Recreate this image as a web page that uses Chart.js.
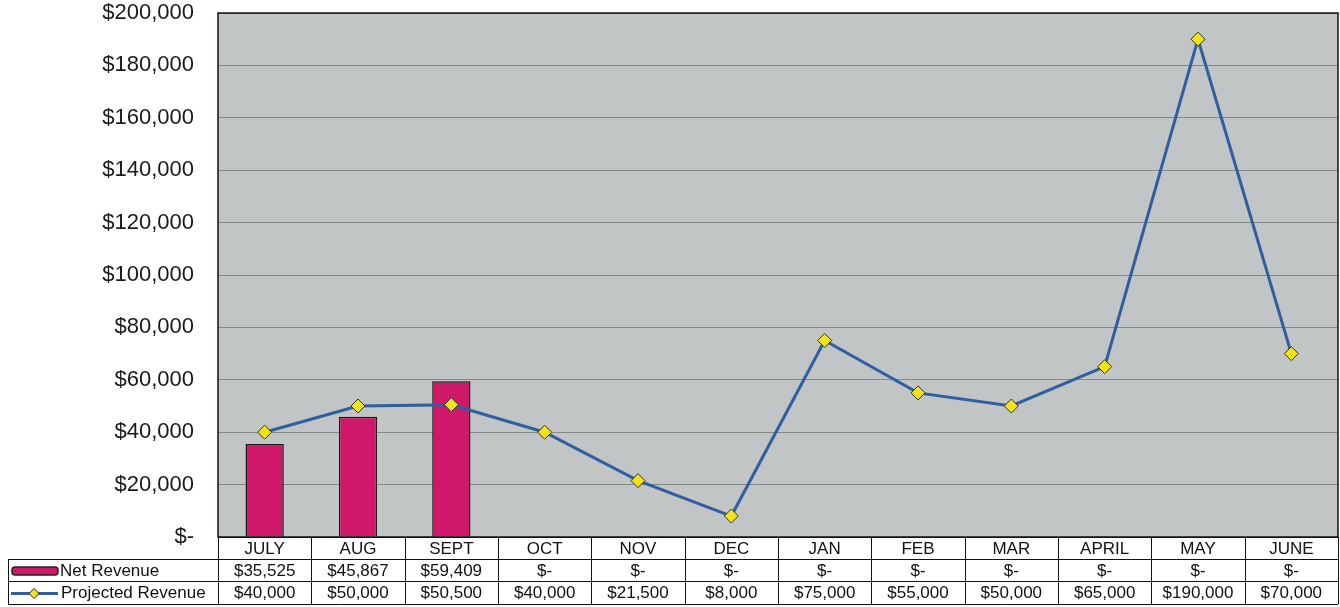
<!DOCTYPE html>
<html>
<head>
<meta charset="utf-8">
<script src="https://cdn.jsdelivr.net/npm/chart.js@4"></script>
<style>
  html, body { margin: 0; padding: 0; background: #fff; }
  #wrap { width: 1340px; height: 607px; }
</style>
</head>
<body>
<div id="wrap"><canvas id="c" width="1340" height="607"></canvas></div>
<script>
"use strict";
const MONTHS = ["JULY", "AUG", "SEPT", "OCT", "NOV", "DEC", "JAN", "FEB", "MAR", "APRIL", "MAY", "JUNE"];
const NET_REVENUE = [35525, 45867, 59409, null, null, null, null, null, null, null, null, null];
const PROJECTED = [40000, 50000, 50500, 40000, 21500, 8000, 75000, 55000, 50000, 65000, 190000, 70000];
const Y_MAX = 200000, Y_STEP = 20000;

const COLORS = { bar: "#d0186a", line: "#2f5f9f", point: "#f2e21a", plot: "#c2c5c5", grid: "#858888" };
const FONT = "'Liberation Sans', Arial, sans-serif";

const money = (v) => (v ? "$" + v.toLocaleString("en-US") : "$-");

// grey plot background + black frame
const plotBg = {
  id: "plotBg",
  beforeDraw(chart) {
    const { ctx, chartArea: a } = chart;
    ctx.save();
    ctx.fillStyle = COLORS.plot;
    ctx.fillRect(a.left, a.top, a.right - a.left, a.bottom - a.top);
    ctx.restore();
  },
  afterDatasetsDraw(chart) {
    const { ctx, chartArea: a } = chart;
    ctx.save();
    ctx.strokeStyle = "#111";
    ctx.lineWidth = 1.5;
    ctx.strokeRect(a.left, a.top, a.right - a.left, a.bottom - a.top);
    ctx.restore();
  },
};

// data table under the plot
const dataTable = {
  id: "dataTable",
  afterDraw(chart) {
    const { ctx, chartArea: a, scales: { x } } = chart;
    const rows = [a.bottom, 559, 581, 604];
    const half = (x.getPixelForValue(1) - x.getPixelForValue(0)) / 2;
    const labelLeft = 8;
    ctx.save();
    ctx.strokeStyle = "#111";
    ctx.lineWidth = 1;
    ctx.beginPath();
    ctx.moveTo(a.left, rows[0] + 0.5); ctx.lineTo(a.right, rows[0] + 0.5);
    for (let r = 1; r < rows.length; r++) {
      ctx.moveTo(labelLeft, rows[r] + 0.5); ctx.lineTo(a.right, rows[r] + 0.5);
    }
    for (let i = 0; i <= MONTHS.length; i++) {
      const px = Math.round(x.getPixelForValue(i) - half) + 0.5;
      ctx.moveTo(px, rows[0]); ctx.lineTo(px, rows[3]);
    }
    ctx.moveTo(labelLeft + 0.5, rows[1]); ctx.lineTo(labelLeft + 0.5, rows[3]);
    ctx.stroke();

    ctx.fillStyle = "#111";
    ctx.font = `17px ${FONT}`;
    ctx.textAlign = "center";
    ctx.textBaseline = "middle";
    MONTHS.forEach((m, i) => {
      const cx = x.getPixelForValue(i);
      ctx.fillText(m, cx, (rows[0] + rows[1]) / 2 + 1);
      ctx.fillText(money(NET_REVENUE[i]), cx, (rows[1] + rows[2]) / 2 + 1);
      ctx.fillText(money(PROJECTED[i]), cx, (rows[2] + rows[3]) / 2 + 1);
    });

    // row headers with legend keys
    ctx.textAlign = "left";
    const y1 = (rows[1] + rows[2]) / 2 + 1, y2 = (rows[2] + rows[3]) / 2 + 1;
    ctx.fillText("Net Revenue", 60, y1);
    ctx.fillText("Projected Revenue", 61, y2);
    ctx.fillStyle = COLORS.bar;
    ctx.strokeStyle = "#222";
    ctx.lineWidth = 1.5;
    ctx.beginPath();
    ctx.roundRect(12, y1 - 4, 46, 8, 3);
    ctx.fill(); ctx.stroke();
    ctx.strokeStyle = COLORS.line;
    ctx.lineWidth = 3;
    ctx.beginPath(); ctx.moveTo(11, y2); ctx.lineTo(58, y2); ctx.stroke();
    ctx.fillStyle = COLORS.point;
    ctx.strokeStyle = "#222";
    ctx.lineWidth = 1;
    ctx.beginPath();
    ctx.moveTo(34, y2 - 5); ctx.lineTo(39, y2); ctx.lineTo(34, y2 + 5); ctx.lineTo(29, y2);
    ctx.closePath(); ctx.fill(); ctx.stroke();
    ctx.restore();
  },
};

Chart.defaults.animation = false;
Chart.defaults.font.family = FONT;

new Chart(document.getElementById("c"), {
  data: {
    labels: MONTHS,
    datasets: [
      { type: "line", label: "Projected Revenue", data: PROJECTED, order: 0,
        borderColor: COLORS.line, borderWidth: 3, tension: 0,
        pointStyle: "rectRot", pointRadius: 7, pointHoverRadius: 7,
        pointBackgroundColor: COLORS.point, pointBorderColor: "#333", pointBorderWidth: 1 },
      { type: "bar", label: "Net Revenue", data: NET_REVENUE, order: 1,
        backgroundColor: COLORS.bar, borderColor: "#1a1a1a", borderWidth: 1.5,
        categoryPercentage: 1, barPercentage: 0.41 },
    ],
  },
  options: {
    responsive: false,
    layout: { autoPadding: false, padding: { top: 13, right: 2, bottom: 70, left: 0 } },
    plugins: { legend: { display: false }, tooltip: { enabled: false } },
    scales: {
      x: { display: false },
      y: {
        min: 0, max: Y_MAX,
        ticks: { stepSize: Y_STEP, color: "#1a1a1a", padding: 24,
          font: { size: 22, family: FONT },
          callback: (v) => money(v) },
        grid: { color: COLORS.grid, lineWidth: 1, drawTicks: false },
        border: { display: false },
        afterFit: (s) => { s.width = 218; s.paddingTop = 0; s.paddingBottom = 0; },
      },
    },
  },
  plugins: [plotBg, dataTable],
});
</script>
</body>
</html>
